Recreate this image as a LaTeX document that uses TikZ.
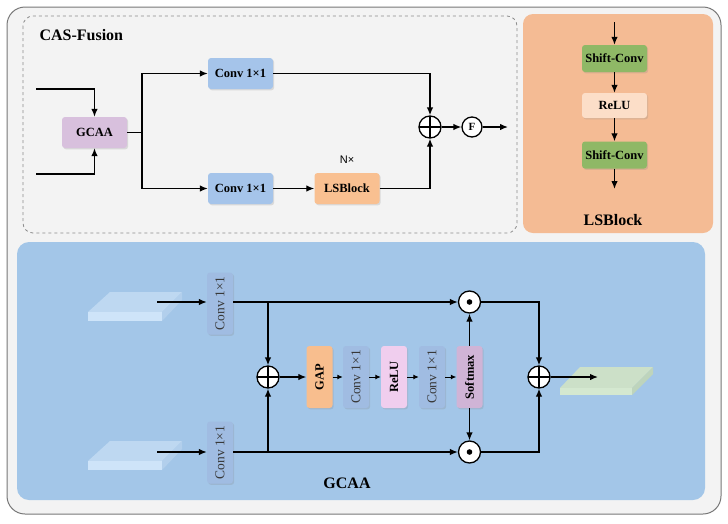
\documentclass[tikz,border=0pt]{standalone}
\usepackage{fontspec}
\setmainfont{Liberation Serif}
\newfontfamily\labelsans{Liberation Sans}
\usepackage{graphicx}
\usetikzlibrary{arrows.meta,shadows}

\definecolor{outerbg}{RGB}{243,243,243}
\definecolor{outerline}{RGB}{120,120,120}
\definecolor{dashline}{RGB}{140,140,140}
\definecolor{lspanel}{RGB}{244,187,148}
\definecolor{gcaapanel}{RGB}{163,198,232}
\definecolor{gcaacol}{RGB}{216,192,221}
\definecolor{convcol}{RGB}{165,196,234}
\definecolor{lscol}{RGB}{249,192,145}
\definecolor{shiftcol}{RGB}{143,184,102}
\definecolor{relucol}{RGB}{252,222,200}
\definecolor{vconvcol}{RGB}{160,188,226}
\definecolor{gapcol}{RGB}{248,190,142}
\definecolor{vrelucol}{RGB}{240,206,238}
\definecolor{softcol}{RGB}{208,180,214}
\definecolor{slabtop}{RGB}{190,216,241}
\definecolor{slabfront}{RGB}{206,228,249}
\definecolor{slabside}{RGB}{178,207,236}
\definecolor{gslabtop}{RGB}{204,224,200}
\definecolor{gslabfront}{RGB}{212,232,208}
\definecolor{gslabside}{RGB}{190,212,188}

\begin{document}
\begin{tikzpicture}[x=1pt, y=-1pt, >={Latex[length=8pt,width=6.5pt]}]
        \tikzstyle{block} = [rounded corners=3pt, minimum width=65pt, minimum height=31pt, inner sep=0pt,
          font=\bfseries\fontsize{12.5}{14}\selectfont,
          drop shadow={opacity=0.22, shadow xshift=1.2pt, shadow yshift=-1.4pt}]
        \tikzstyle{vblock} = [block, minimum width=26pt, minimum height=62pt]
        \tikzstyle{vconv} = [vblock, fill=vconvcol, text=black!78, font=\fontsize{13.5}{15}\selectfont]
        \tikzstyle{sum_node} = [shape = circle, draw = black, fill = white, line width=1.3pt, minimum size=22pt, inner sep=0pt,
          path picture={\draw[black, line width=1.3pt] (path picture bounding box.north) -- (path picture bounding box.south)
            (path picture bounding box.west) -- (path picture bounding box.east);}]
        \tikzstyle{dot_node} = [shape = circle, draw = black, fill = white, line width=1.3pt, minimum size=22pt, inner sep=0pt,
          path picture={\fill[black] (path picture bounding box.center) circle (2.8pt);}]
        \tikzstyle{f_node} = [shape = circle, draw = black, fill = white, line width=1.3pt, minimum size=20pt, inner sep=0pt,
          font=\bfseries\fontsize{11}{12}\selectfont]
        \tikzstyle{title} = [font=\bfseries\fontsize{16}{18}\selectfont]
        \tikzstyle{flow} = [line width=1.3pt]

        \useasboundingbox (0,0) rectangle (728,523);

        % panels
        \draw[draw=outerline, line width=1pt, fill=outerbg, rounded corners=18pt] (7,7) rectangle (721,514);
        \draw[draw=dashline, dashed, line width=0.8pt, rounded corners=10pt] (23,16) rectangle (517,233);
        \fill[lspanel, rounded corners=10pt] (523,14) rectangle (713,233);
        \fill[gcaapanel, rounded corners=12pt] (17,242) rectangle (705,500);

        % CAS-Fusion
        \node[title, anchor=west] at (36, 35) (cas_title) {CAS-Fusion};

        \node[block, fill=gcaacol] at (94.5, 132.5) (gcaa) {GCAA};

        \node[block, fill=convcol] at (240.5, 73.5) (conv_up) {Conv 1×1};

        \node[block, fill=convcol] at (240.5, 188.5) (conv_down) {Conv 1×1};

        \node[block, fill=lscol] at (347, 188.5) (ls_block) {LSBlock};

        \node[font=\labelsans\fontsize{11}{12}\selectfont] at (347, 160) (n_times) {N×};

        \node[sum_node] at (430, 127) (fuse_sum) {};

        \node[f_node] at (472, 127) (fuse_f) {F};

        \coordinate (in_up) at (36, 89);
        \coordinate (in_down) at (36, 174);
        \coordinate (split) at (142, 132.5);
        \coordinate (fuse_out) at (508, 127);

        \draw[->, flow] (in_up) -| (gcaa.north);
        \draw[->, flow] (in_down) -| (gcaa.south);
        \draw[flow] (gcaa.east) -- (split);
        \draw[->, flow] (split) |- (conv_up.west);
        \draw[->, flow] (split) |- (conv_down.west);
        \draw[->, flow] (conv_up.east) -| (fuse_sum.north);
        \draw[->, flow] (ls_block.east) -| (fuse_sum.south);
        \draw[flow]
          (conv_down) edge[->] (ls_block)
          (fuse_sum) edge[->] (fuse_f)
          (fuse_f) edge[->] (fuse_out)
        ;

        % LSBlock
        \node[block, fill=shiftcol, minimum height=27pt] at (614.5, 58.5) (shift_a) {Shift-Conv};

        \node[block, fill=relucol, minimum height=25pt] at (614.5, 105.5) (relu_a) {ReLU};

        \node[block, fill=shiftcol, minimum height=27pt] at (614.5, 155) (shift_b) {Shift-Conv};

        \node[title] at (613, 220) (ls_title) {LSBlock};

        \coordinate (ls_in) at (614.5, 22);
        \coordinate (ls_out) at (614.5, 189);

        \draw[flow]
          (ls_in) edge[->] (shift_a)
          (shift_a) edge[->] (relu_a)
          (relu_a) edge[->] (shift_b)
          (shift_b) edge[->] (ls_out)
        ;

        % GCAA
        \foreach \sy in {0, 149} {
          \fill[slabtop] (110, 292+\sy) -- (182, 292+\sy) -- (162, 312+\sy) -- (88, 312+\sy) -- cycle;
          \fill[slabfront] (88, 312+\sy) rectangle (162, 321+\sy);
          \fill[slabside] (162, 312+\sy) -- (182, 292+\sy) -- (182, 300+\sy) -- (162, 321+\sy) -- cycle;
        }
        \fill[gslabtop] (580, 367) -- (653, 367) -- (632, 388) -- (560, 388) -- cycle;
        \fill[gslabfront] (560, 388) rectangle (632, 395);
        \fill[gslabside] (632, 388) -- (653, 367) -- (653, 374) -- (632, 395) -- cycle;

        \node[vconv] at (220, 303.5) (g_conv_up) {\rotatebox{90}{Conv 1×1}};

        \node[vconv] at (220, 452.5) (g_conv_down) {\rotatebox{90}{Conv 1×1}};

        \node[sum_node] at (268, 377) (g_sum) {};

        \node[vblock, fill=gapcol] at (319.5, 377) (g_gap) {\rotatebox{90}{GAP}};

        \node[vconv] at (356, 377) (g_conv_a) {\rotatebox{90}{Conv 1×1}};

        \node[vblock, fill=vrelucol] at (394, 377) (g_relu) {\rotatebox{90}{ReLU}};

        \node[vconv] at (432, 377) (g_conv_b) {\rotatebox{90}{Conv 1×1}};

        \node[vblock, fill=softcol] at (469.5, 377) (g_soft) {\rotatebox{90}{Softmax}};

        \node[dot_node] at (469.5, 302) (g_dot_up) {};

        \node[dot_node] at (469.5, 452) (g_dot_down) {};

        \node[sum_node] at (539, 377) (g_out_sum) {};

        \node[title] at (347, 483) (g_title) {GCAA};

        \coordinate (g_in_up) at (157, 302);
        \coordinate (g_in_down) at (157, 452);
        \coordinate (g_branch_up) at (268, 302);
        \coordinate (g_branch_down) at (268, 452);
        \coordinate (g_out) at (598, 377);

        \draw[flow]
          (g_in_up) edge[->] (g_conv_up.west |- g_in_up)
          (g_in_down) edge[->] (g_conv_down.west |- g_in_down)
          (g_conv_up.east |- g_branch_up) edge[->] (g_dot_up)
          (g_conv_down.east |- g_branch_down) edge[->] (g_dot_down)
          (g_branch_up) edge[->] (g_sum)
          (g_branch_down) edge[->] (g_sum)
          (g_sum) edge[->] (g_gap)
          (g_soft) edge[->] (g_dot_up)
          (g_soft) edge[->] (g_dot_down)
          (g_out_sum) edge[->] (g_out)
        ;

        \draw[line width=1pt]
          (g_gap) edge[-{Latex[length=5.5pt,width=5pt]}] (g_conv_a)
          (g_conv_a) edge[-{Latex[length=5.5pt,width=5pt]}] (g_relu)
          (g_relu) edge[-{Latex[length=5.5pt,width=5pt]}] (g_conv_b)
          (g_conv_b) edge[-{Latex[length=5.5pt,width=5pt]}] (g_soft)
        ;

        \draw[->, flow] (g_dot_up) -| (g_out_sum.north);
        \draw[->, flow] (g_dot_down) -| (g_out_sum.south);
      \end{tikzpicture}
\end{document}
